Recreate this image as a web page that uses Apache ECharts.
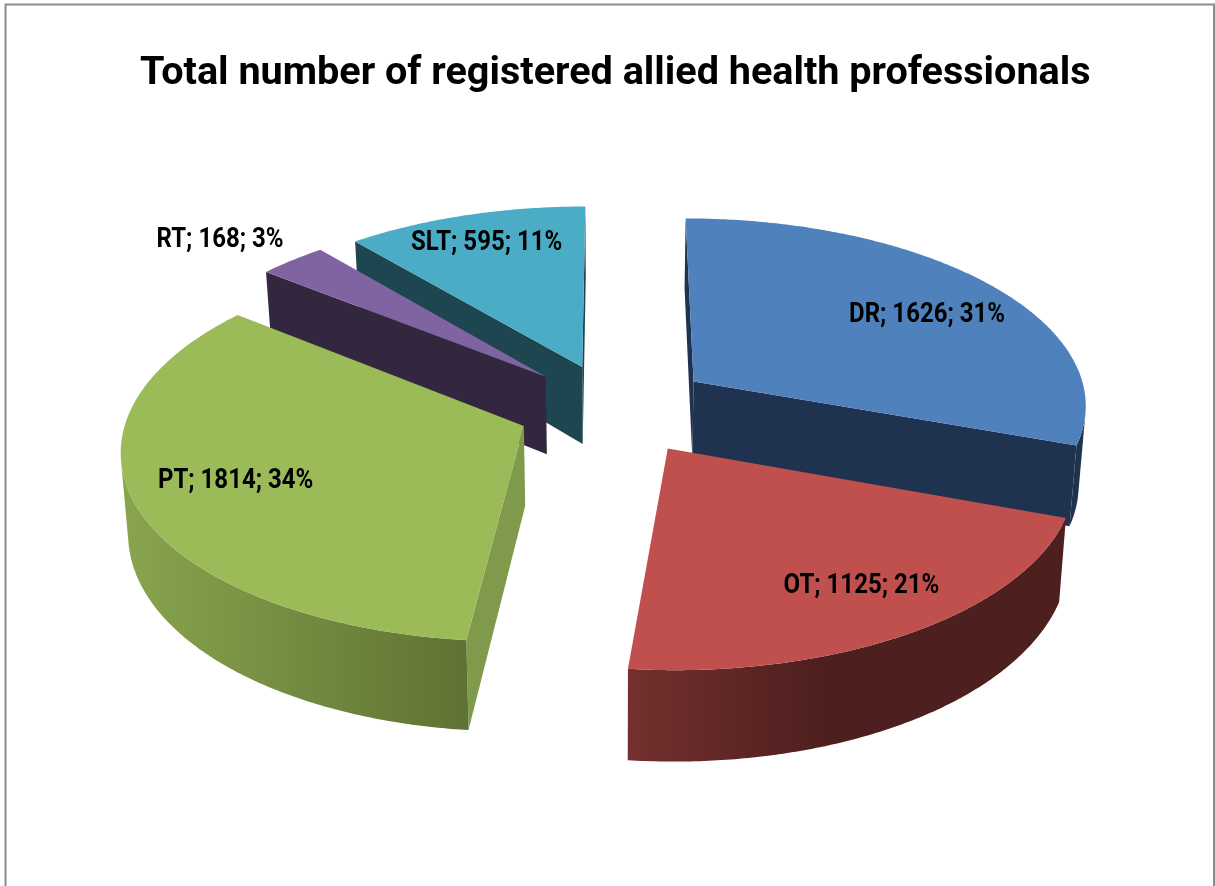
<!DOCTYPE html>
<html><head><meta charset="utf-8">
<style>html,body{margin:0;padding:0;background:#fff}#c{width:1215px;height:886px}</style>
<script src="https://cdn.jsdelivr.net/npm/echarts@6/dist/echarts.min.js"></script>
</head><body><div id="c"></div>
<script>
const titleText = 'Total number of registered allied health professionals';
const categories = ['DR', 'OT', 'PT', 'RT', 'SLT'];
const values = [1626, 1125, 1814, 168, 595];
const explode = [0.25, 0.25, 0.245, 0.245, 0.24];
const labelRadius = [0.75, 0.772, 0.742, 1.26, 0.818];
const labelAngle = [58.0, 145.8, 249.2, 312.1, 340.3];
const topColors = ['#4F81BD', '#C0504D', '#9BBB59', '#8064A2', '#4BACC6'];
const cutColors = ['#1F3350', '#4D1F1E', '#7F9A4A', '#33263F', '#1E4651'];
const arcColors = [['#1F3350', '#1F3350'], ['#73302E', '#4D1F1E'], ['#89A54E', '#5E7233'], ['#33263F', '#33263F'], ['#1E4651', '#1E4651']];
const arcStops = [1, 0.45, 1, 1, 1];

const view = { cx: 614, cy: 408, R: 395, B: 187, D: 79, k: 0.112, m: 0.015 };
const total = values.reduce((a, b) => a + b, 0);
const slices = [];
let acc = 0;
values.forEach((v, i) => {
  const a0 = acc / total * 2 * Math.PI;
  acc += v;
  const a1 = acc / total * 2 * Math.PI;
  const mid = (a0 + a1) / 2;
  slices.push({ i, a0, a1, mid, u: explode[i] * Math.sin(mid), z: -explode[i] * Math.cos(mid) });
});
const drawOrder = slices.slice().sort((p, q) => p.z - q.z).map(s => s.i);

function project(u, z, h) {
  const s = 1 / (1 - view.k * z);
  return [view.cx + view.R * u * s * (1 - view.m * h), view.cy + view.B * z * s + view.D * h * s];
}
function area(p) {
  let t = 0;
  for (let i = 0; i < p.length; i++) {
    const a = p[i], b = p[(i + 1) % p.length];
    t += a[0] * b[1] - b[0] * a[1];
  }
  return t;
}
function renderSlice(params, api) {
  const sl = slices[api.value(0)];
  const i = sl.i;
  const children = [];
  const pt = (a, h) => project(sl.u + Math.sin(a), sl.z - Math.cos(a), h);
  const apexT = project(sl.u, sl.z, 0), apexB = project(sl.u, sl.z, 1);
  const steps = Math.max(6, Math.ceil((sl.a1 - sl.a0) / 0.01));
  const angles = [];
  for (let n = 0; n <= steps; n++) angles.push(sl.a0 + (sl.a1 - sl.a0) * n / steps);

  const wall = (a, b, fill) => children.push({
    type: 'polygon', shape: { points: a.concat(b.slice().reverse()) },
    style: { fill: fill, stroke: null }
  });
  const s0T = pt(sl.a0, 0), s0B = pt(sl.a0, 1), s1T = pt(sl.a1, 0), s1B = pt(sl.a1, 1);
  if (area([apexT, s0T, s0B, apexB]) < 0) wall([apexT, s0T], [apexB, s0B], cutColors[i]);
  if (area([s1T, apexT, apexB, s1B]) < 0) wall([s1T, apexT], [s1B, apexB], cutColors[i]);
  const gradient = new echarts.graphic.LinearGradient(0, 0, 1, 0, [
    { offset: 0, color: arcColors[i][0] },
    { offset: arcStops[i], color: arcColors[i][1] },
    { offset: 1, color: arcColors[i][1] }
  ]);
  let top = [], bot = [];
  const flush = () => { if (top.length > 1) wall(top, bot, gradient); top = []; bot = []; };
  for (let n = 0; n < steps; n++) {
    const aT = pt(angles[n], 0), bT = pt(angles[n + 1], 0), aB = pt(angles[n], 1), bB = pt(angles[n + 1], 1);
    if (area([aT, bT, bB, aB]) < 0) {
      if (!top.length) { top.push(aT); bot.push(aB); }
      top.push(bT); bot.push(bB);
    } else flush();
  }
  flush();
  children.push({
    type: 'polygon',
    shape: { points: [apexT].concat(angles.map(a => pt(a, 0))) },
    style: { fill: topColors[i], stroke: null }
  });
  const lr = labelRadius[i], la = labelAngle[i] * Math.PI / 180;
  const lp = project(sl.u + lr * Math.sin(la), sl.z - lr * Math.cos(la), 0);
  children.push({
    type: 'text', x: lp[0], y: lp[1] + 3, scaleX: 0.89,
    style: {
      text: categories[i] + '; ' + values[i] + '; ' + Math.round(values[i] / total * 100) + '%',
      x: 0, y: 0, fill: '#000', textAlign: 'center', textVerticalAlign: 'middle',
      font: 'bold 27px Roboto, sans-serif'
    }
  });
  return { type: 'group', children };
}

const chart = echarts.init(document.getElementById('c'), null, { renderer: 'canvas' });
chart.setOption({
  animation: false,
  backgroundColor: '#fff',
  title: {
    text: titleText, left: 135, top: 49,
    textStyle: { color: '#000', fontWeight: 'bold', fontSize: 39.6, fontFamily: 'Roboto, sans-serif' }
  },
  graphic: [{
    type: 'rect', silent: true, z: -1,
    shape: { x: 5.5, y: 4.5, width: 1208.5, height: 900 },
    style: { fill: 'none', stroke: '#8c8c8c', lineWidth: 2 }
  }],
  series: [{
    type: 'custom', coordinateSystem: 'none', silent: true,
    renderItem: renderSlice,
    data: drawOrder.map(i => [i, values[i]])
  }]
});
</script></body></html>
